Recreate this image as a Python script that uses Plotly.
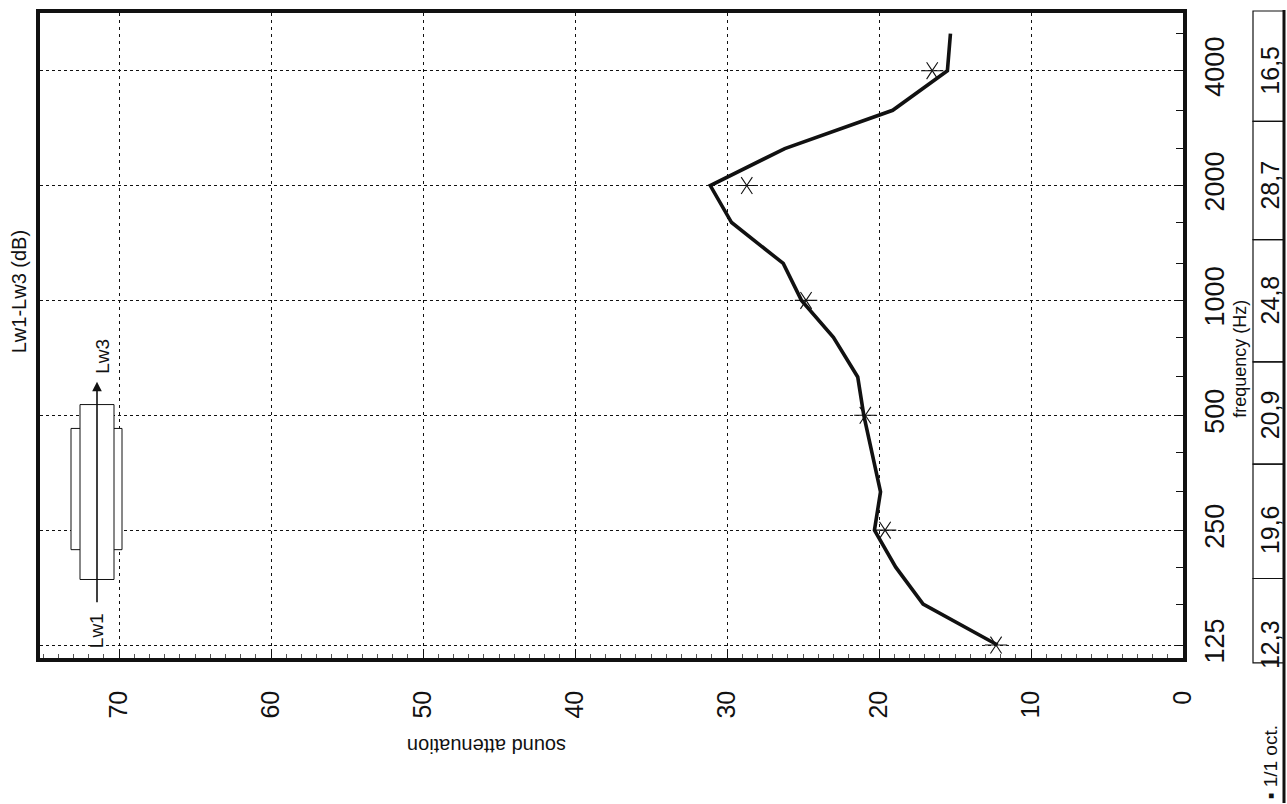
import numpy as np
import plotly.graph_objects as go

# 1/3-octave band centre frequencies (Hz) and measured attenuation Lw1-Lw3 (dB)
third_oct_hz = [125, 160, 200, 250, 315, 400, 500, 630, 800, 1000,
                1250, 1600, 2000, 2500, 3150, 4000, 5000]
third_oct_db = [12.2, 17.1, 18.9, 20.3, 19.9, 20.5, 21.0, 21.4, 23.0, 25.1,
                26.3, 29.7, 31.1, 26.2, 19.1, 15.5, 15.3]

# 1/1-octave results
octave_hz = [125, 250, 500, 1000, 2000, 4000]
octave_db = [12.3, 19.6, 20.9, 24.8, 28.7, 16.5]
octave_text = ["12,3", "19,6", "20,9", "24,8", "28,7", "16,5"]

db_ticks = [0, 10, 20, 30, 40, 50, 60, 70]
freq_ticks = [125, 250, 500, 1000, 2000, 4000]

# page geometry (pixels)
FIG_W, FIG_H = 1287, 804
M_L, M_R, M_T, M_B = 40, 104, 9, 146
PLOT_W = FIG_W - M_L - M_R
PLOT_H = FIG_H - M_T - M_B


def px(xp):
    return (xp - M_L) / PLOT_W


def py(yp):
    return 1 - (yp - M_T) / PLOT_H


FONT = "Liberation Sans, Arial, sans-serif"
INK = "#111111"

fig = go.Figure()

# 1/3-octave curve
fig.add_trace(go.Scatter(
    x=third_oct_db, y=third_oct_hz, mode="lines",
    line=dict(color=INK, width=3.6), hoverinfo="skip", showlegend=False))

# 1/1-octave values: six-armed asterisks
for sym in ["y-left-open", "y-right-open"]:
    fig.add_trace(go.Scatter(
        x=octave_db, y=octave_hz, mode="markers",
        marker=dict(symbol=sym, size=14, color=INK,
                    line=dict(color=INK, width=1.1)),
        hoverinfo="skip", showlegend=False))

fig.update_xaxes(
    range=[75.2, 0], tickmode="array", tickvals=db_ticks,
    ticktext=[str(v) for v in db_ticks], tickangle=-90,
    tickfont=dict(family=FONT, size=25, color=INK),
    ticks="inside", ticklen=9, tickwidth=1, tickcolor=INK,
    minor=dict(dtick=1, tick0=0, ticks="inside", ticklen=4,
               tickwidth=1, tickcolor="#555555", showgrid=False),
    showgrid=True, gridcolor=INK, gridwidth=1.4, griddash="3px,4px",
    showline=True, linecolor=INK, linewidth=3.5, mirror=True,
    zeroline=False, ticklabelstandoff=19,
)

fig.update_yaxes(
    type="log", range=[np.log10(115.6), np.log10(5665)],
    side="right", tickmode="array", tickvals=freq_ticks,
    ticktext=[str(v) for v in freq_ticks], tickangle=-90,
    tickfont=dict(family=FONT, size=27, color=INK),
    ticks="inside", ticklen=7, tickwidth=1, tickcolor=INK,
    minor=dict(tickmode="array", tickvals=third_oct_hz, ticks="inside",
               ticklen=7, tickwidth=1, tickcolor=INK, showgrid=False),
    showgrid=True, gridcolor=INK, gridwidth=1.4, griddash="3px,3px",
    showline=True, linecolor=INK, linewidth=3.5, mirror=True,
    zeroline=False, ticklabelstandoff=5,
)

shapes = []
annotations = []


def label(x, y, text, size, angle=-90, yref="paper"):
    annotations.append(dict(xref="paper", yref=yref, x=x, y=y, text=text,
                            textangle=angle, showarrow=False,
                            xanchor="center", yanchor="middle",
                            font=dict(family=FONT, size=size, color=INK)))


# source/receiver sketch: flanged block with Lw1 -> Lw3 arrow
shapes.append(dict(type="rect", xref="paper", yref="paper",
                   x0=px(71), x1=px(122), y0=py(549), y1=py(427),
                   line=dict(color=INK, width=1), fillcolor="white", layer="above"))
shapes.append(dict(type="rect", xref="paper", yref="paper",
                   x0=px(80), x1=px(114), y0=py(579), y1=py(403),
                   line=dict(color=INK, width=1), fillcolor="white", layer="above"))
annotations.append(dict(xref="paper", yref="paper", x=px(97), y=py(380),
                        ax=0, ay=222, text="", showarrow=True,
                        arrowhead=2, arrowsize=1.2, arrowwidth=1.6, arrowcolor=INK))
label(px(103), py(355), "Lw3", 19)
label(px(96), py(631), "Lw1", 19)

# axis titles
label(px(19), py(290), "Lw1-Lw3 (dB)", 20)
label(px(487), py(746), "sound attenuation", 20, angle=180)
label(px(1240), py(357), "frequency (Hz)", 18)

# 1/1-octave table
tab_x0, tab_x1 = px(1253), px(1284)
cell_edges = [7, 118, 237, 360, 463, 578, 663]
for top, bot in zip(cell_edges[:-1], cell_edges[1:]):
    shapes.append(dict(type="rect", xref="paper", yref="paper",
                       x0=tab_x0, x1=tab_x1, y0=py(bot), y1=py(top),
                       line=dict(color=INK, width=1.2)))
shapes.append(dict(type="line", xref="paper", yref="paper",
                   x0=tab_x1, x1=tab_x1, y0=py(804), y1=py(6),
                   line=dict(color=INK, width=3)))
for f, txt in zip(octave_hz, octave_text):
    label(px(1270), np.log10(f), txt, 25, yref="y")
label(px(1270), py(763), "▪ 1/1 oct.", 19)

fig.update_layout(
    width=FIG_W, height=FIG_H,
    margin=dict(l=M_L, r=M_R, t=M_T, b=M_B, pad=0),
    paper_bgcolor="white", plot_bgcolor="white",
    shapes=shapes, annotations=annotations,
    showlegend=False,
)

fig.write_html("out.html", config={"displayModeBar": False})
